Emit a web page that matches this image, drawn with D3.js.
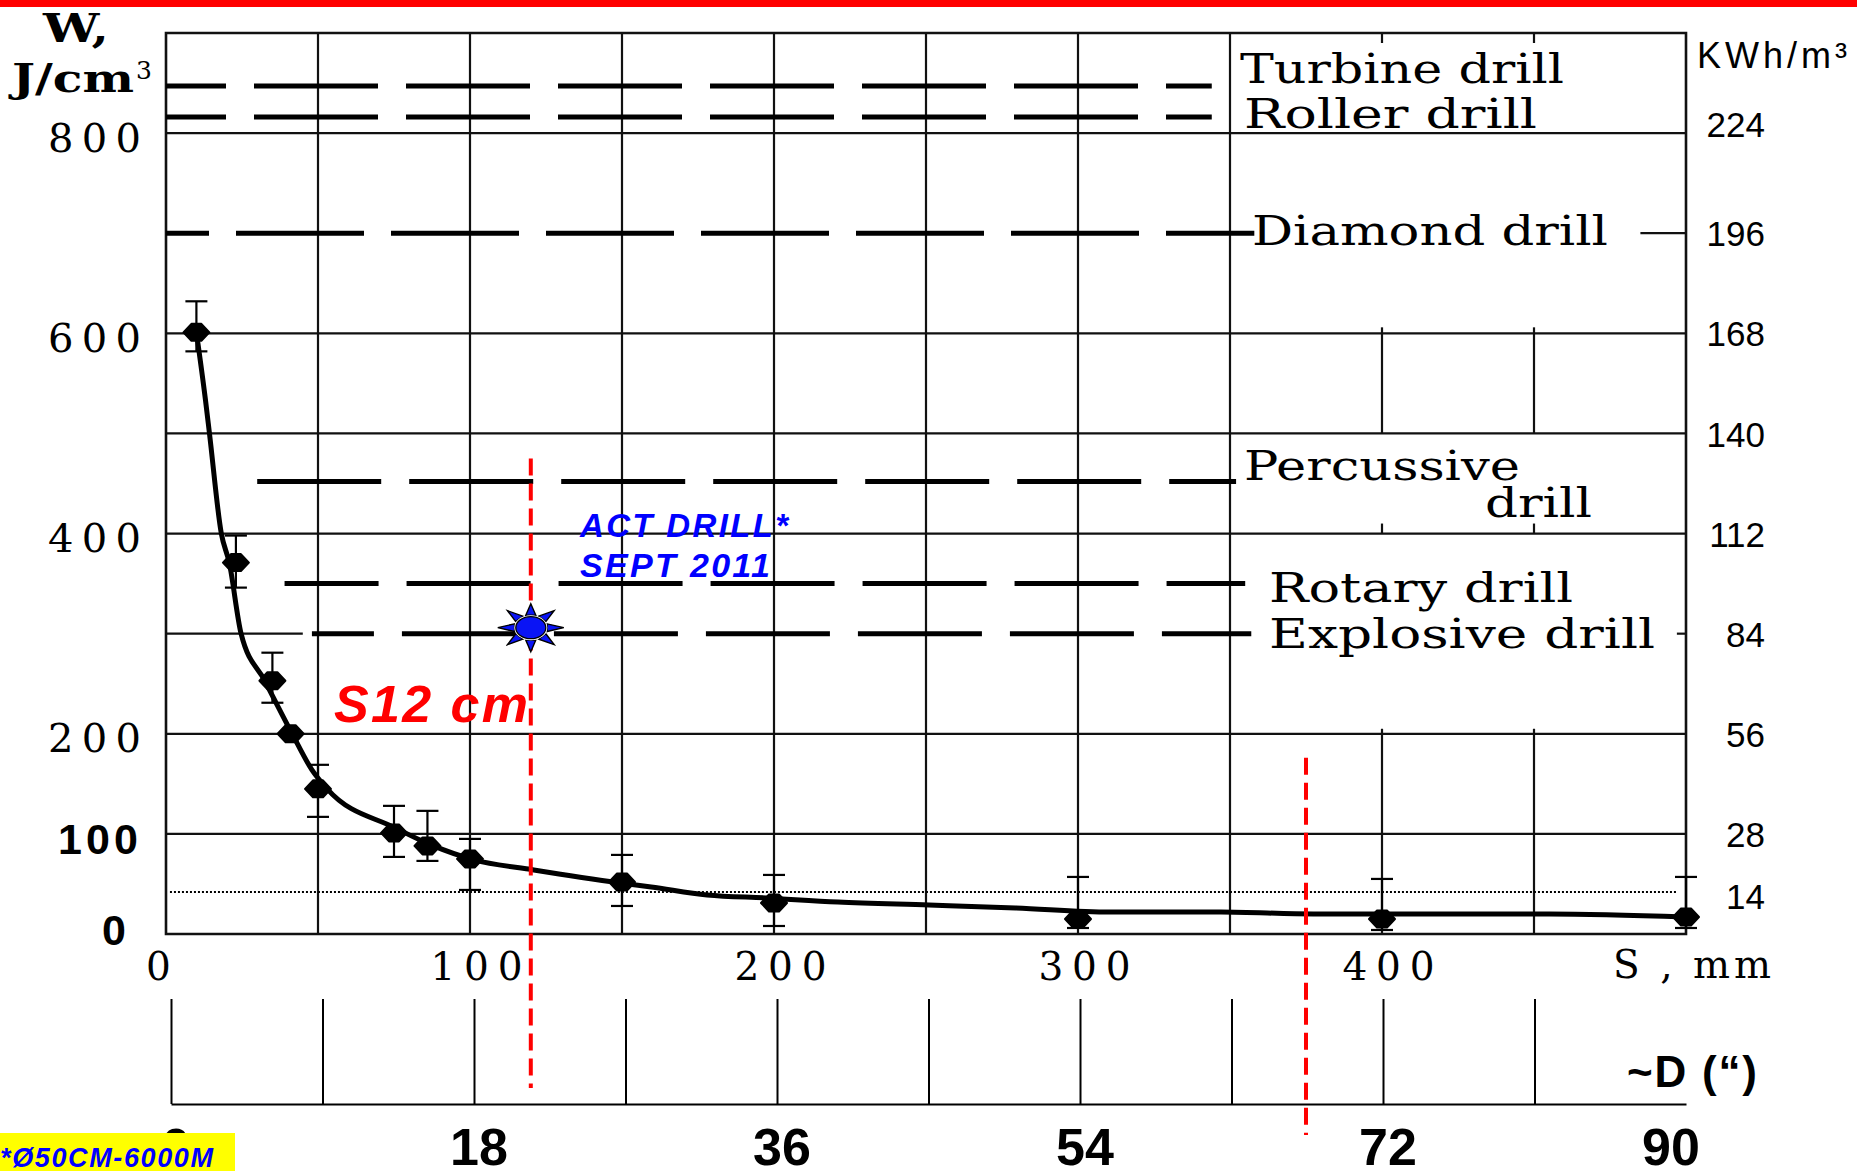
<!DOCTYPE html>
<html>
<head>
<meta charset="utf-8">
<script src="https://cdn.jsdelivr.net/npm/d3@7"></script>
<style>
  body { margin: 0; background: #fff; }
  svg { display: block; }
</style>
</head>
<body>
<svg id="chart" width="1857" height="1171"></svg>
<script>
// Specific energy W (J/cm³) against cutting spacing S (mm)
const pointS  = [10, 23, 35, 41, 50, 75, 86, 100, 150, 200, 300, 400, 500];
const pointW  = [601, 371, 253, 200, 145, 101, 88, 75, 52, 31, 15, 15, 17];
const errHigh = [632, 398, 281, null, 169, 128, 123, 95, 79, 59, 57, 55, 57];
const errLow  = [582, 346, 231, null, 117, 77, 73, 44, 28, 8, 6, 4, 6];

// Fitted trend curve
const curveS = [10, 13, 14.3, 18.2, 20.8, 24.7, 32.5, 41.5, 48, 53, 75.4, 87.2, 101.4, 121, 149.4, 159.6, 178, 197.5, 221, 251, 279.5, 310.7, 347, 377.5, 455, 500];
const curveW = [601, 533, 500, 400, 371, 300, 253, 200, 164, 145, 106, 89, 74, 64, 51, 47, 39, 36, 32, 29, 26, 22, 22, 20, 20, 17];

// Typical energy levels of drilling methods
const drillNames = ["Turbine drill", "Roller drill", "Diamond drill", "Percussive drill", "Rotary drill", "Explosive drill"];
const drillW     = [847, 816, 700, 452, 350, 300];
const drillFromS = [0, 0, 0, 30, 39, 48];
const drillToS   = [344, 344, 358, 352, 355, 357];

// Axis ticks
const leftTicks  = [0, 100, 200, 400, 600, 800];
const rightTicks = [224, 196, 168, 140, 112, 84, 56, 28, 14];   // kWh/m³
const xTicks     = [0, 100, 200, 300, 400];
const dTicks     = [0, 9, 18, 27, 36, 45, 54, 63, 72, 81];          // inches
const dLabels    = [0, 18, 36, 54, 72, 90];

// Grid
const gridW = [100, 200, 400, 500, 600, 800];
const gridS = [50, 100, 150, 200, 250, 300, 350];
const partialGridS = [400, 450];
const partialGridSpans = [[900, 890], [606, 500], [410, 400], [205, 0]];

// Annotations
const markerS = [120, 375];
const markerTopW = [475, 176];
const actDrillS = 120, actDrillW = 306;
const refLevelW = 42;
const kwhPerJ = 0.28;

const svg = d3.select("#chart");
const x = d3.scaleLinear().domain([0, 500]).range([166, 1686]);
const y = d3.scaleLinear().domain([0, 900]).range([934, 33]);
const yK = d3.scaleLinear().domain([0, 900 * kwhPerJ]).range([934, 33]);
const dScale = d3.scaleLinear().domain([0, 90]).range([171, 1686]);

const serif = "'DejaVu Serif', 'Liberation Serif', serif";
const sans = "'Liberation Sans', Arial, sans-serif";
const ink = "#111";

// top red band
svg.append("rect").attr("x", 0).attr("y", 0).attr("width", 1857).attr("height", 7).attr("fill", "#ff0000");

const grid = svg.append("g").attr("stroke", ink).attr("stroke-width", 2.2).attr("fill", "none");
// horizontal grid
grid.selectAll("line.h").data(gridW).join("line")
  .attr("x1", x(0)).attr("x2", x(500)).attr("y1", d => y(d)).attr("y2", d => y(d));
// short pieces of the 300 and 700 levels
grid.append("line").attr("x1", x(0)).attr("x2", x(45)).attr("y1", y(300)).attr("y2", y(300));
grid.append("line").attr("x1", x(497)).attr("x2", x(500)).attr("y1", y(300)).attr("y2", y(300));
grid.append("line").attr("x1", x(485)).attr("x2", x(500)).attr("y1", y(700)).attr("y2", y(700));
// vertical grid
grid.selectAll("line.v").data(gridS).join("line")
  .attr("x1", d => x(d)).attr("x2", d => x(d)).attr("y1", y(900)).attr("y2", y(0));
partialGridS.forEach(s => {
  grid.selectAll(null).data(partialGridSpans).join("line")
    .attr("x1", x(s)).attr("x2", x(s)).attr("y1", d => y(d[0])).attr("y2", d => y(d[1]));
});
// frame
svg.append("path")
  .attr("d", `M${x(0)},${y(900)}H${x(500)}V${y(0)}H${x(0)}Z`)
  .attr("fill", "none").attr("stroke", ink).attr("stroke-width", 2.6);

// dashed drill levels
const dashOffsets = [64, 64, 85, 0, 30, 62];
svg.append("g").selectAll("line").data(drillW).join("line")
  .attr("x1", (d, i) => x(drillFromS[i])).attr("x2", (d, i) => x(drillToS[i]))
  .attr("y1", d => y(d)).attr("y2", d => y(d))
  .attr("stroke", "#000").attr("stroke-width", 5)
  .attr("stroke-dasharray", (d, i) => i === 2 ? "128 27" : "124 28")
  .attr("stroke-dashoffset", (d, i) => dashOffsets[i]);

// dotted reference level
svg.append("line").attr("x1", x(1.3)).attr("x2", x(497))
  .attr("y1", y(refLevelW)).attr("y2", y(refLevelW))
  .attr("stroke", "#000").attr("stroke-width", 2).attr("stroke-dasharray", "2 2");

// trend curve
const line = d3.line().x(d => x(d[0])).y(d => y(d[1])).curve(d3.curveMonotoneX);
svg.append("path").datum(curveS.map((s, i) => [s, curveW[i]]))
  .attr("d", line).attr("fill", "none").attr("stroke", "#000").attr("stroke-width", 5)
  .attr("stroke-linejoin", "round");

// error bars
const pts = pointS.map((s, i) => ({ s, w: pointW[i], hi: errHigh[i], lo: errLow[i] }));
const eb = svg.append("g").attr("stroke", "#000").attr("stroke-width", 2.2);
pts.filter(p => p.hi !== null).forEach(p => {
  eb.append("line").attr("x1", x(p.s)).attr("x2", x(p.s)).attr("y1", y(p.hi)).attr("y2", y(p.lo));
  eb.append("line").attr("x1", x(p.s) - 11).attr("x2", x(p.s) + 11).attr("y1", y(p.hi)).attr("y2", y(p.hi));
  eb.append("line").attr("x1", x(p.s) - 11).attr("x2", x(p.s) + 11).attr("y1", y(p.lo)).attr("y2", y(p.lo));
});
// measured points (rounded diamond blobs)
const blob = "M-13,0L-5,-8.5L5,-8.5L13,0L5,8.5L-5,8.5Z";
svg.append("g").selectAll("path").data(pts).join("path")
  .attr("transform", d => `translate(${x(d.s)},${y(d.w)})`)
  .attr("d", blob).attr("fill", "#000").attr("stroke", "#000").attr("stroke-width", 2).attr("stroke-linejoin", "round");

// red dashed markers
svg.append("g").selectAll("line").data(markerS).join("line")
  .attr("x1", d => x(d)).attr("x2", d => x(d))
  .attr("y1", (d, i) => y(markerTopW[i])).attr("y2", (d, i) => i === 0 ? 1088 : 1135)
  .attr("stroke", "#ff0000").attr("stroke-width", 4).attr("stroke-dasharray", "17 8");

// ACT drill star
function starPath(rx, ry, tx, ty, n, half) {
  let p = "";
  for (let i = 0; i < n; i++) {
    const a = i * 2 * Math.PI / n, b1 = a - half, b2 = a + half;
    p += `M${rx * Math.cos(b1)},${ry * Math.sin(b1)}L${tx * Math.cos(a)},${ty * Math.sin(a)}L${rx * Math.cos(b2)},${ry * Math.sin(b2)}Z`;
  }
  return p;
}
const star = svg.append("g").attr("transform", `translate(${x(actDrillS)},${y(actDrillW)})`);
star.append("path").attr("d", starPath(17, 13, 33, 24, 8, 0.3))
  .attr("fill", "#0a14f5").attr("stroke", "#000").attr("stroke-width", 1.4).attr("stroke-linejoin", "miter");
star.append("ellipse").attr("rx", 16.5).attr("ry", 12.5).attr("fill", "#fff").attr("stroke", "none");
star.append("ellipse").attr("rx", 15).attr("ry", 11).attr("fill", "#0a14f5").attr("stroke", "#000").attr("stroke-width", 1.3);

// left axis
const la = svg.append("g").attr("transform", `translate(${x(0)},0)`)
  .call(d3.axisLeft(y).tickValues(leftTicks).tickSize(0).tickPadding(24));
la.select(".domain").remove();
la.selectAll(".tick text")
  .attr("fill", "#000")
  .attr("font-family", d => d <= 100 ? sans : serif)
  .attr("font-weight", d => d <= 100 ? "bold" : "normal")
  .attr("font-size", d => d <= 100 ? 43 : 40)
  .attr("x", d => d === 0 ? -40 : (d === 100 ? -28 : -25))
  .attr("dy", d => d === 0 ? "0.25em" : "0.45em")
  .attr("textLength", d => d === 0 ? null : (d === 100 ? 80 : 93))
  .attr("lengthAdjust", "spacing");

// right axis (kWh/m³)
const ra = svg.append("g").attr("transform", `translate(${x(500)},0)`)
  .call(d3.axisRight(yK).tickValues(rightTicks).tickSize(0));
ra.select(".domain").remove();
ra.selectAll(".tick text")
  .attr("fill", "#000").attr("font-family", sans).attr("font-size", 35)
  .attr("text-anchor", "end").attr("x", 79)
  .attr("dy", d => d === 224 ? "0.1em" : (d === 14 ? "0.7em" : "0.36em"));

// bottom S axis
const xa = svg.append("g").attr("transform", `translate(0,${y(0)})`)
  .call(d3.axisBottom(x).tickValues(xTicks).tickSize(0).tickPadding(18));
xa.select(".domain").remove();
xa.selectAll(".tick text")
  .attr("fill", "#000").attr("font-family", serif).attr("font-size", 39)
  .attr("x", d => d === 0 ? -8 : 6)
  .attr("dy", "0.71em")
  .attr("textLength", d => d === 0 ? null : 92).attr("lengthAdjust", "spacing");

// D axis (inches)
const da = svg.append("g").attr("transform", "translate(0,1104)")
  .call(d3.axisTop(dScale).tickValues(dTicks).tickSize(105).tickSizeOuter(0).tickFormat(""));
da.selectAll("line, path").attr("stroke", "#000").attr("stroke-width", 2);
svg.append("g").selectAll("text").data(dLabels).join("text")
  .attr("x", d => d === 90 ? dScale(d) - 15 : dScale(d) + 5).attr("y", 1165)
  .attr("text-anchor", "middle").attr("font-family", sans).attr("font-weight", "bold")
  .attr("font-size", 52).attr("fill", "#000").text(d => d);

// axis titles
svg.append("text").attr("x", 43).attr("y", 42).attr("font-family", serif).attr("font-weight", "bold")
  .attr("font-size", 40).attr("textLength", 66).attr("lengthAdjust", "spacingAndGlyphs").text("W,");
svg.append("text").attr("x", 12).attr("y", 92).attr("font-family", serif).attr("font-weight", "bold")
  .attr("font-size", 40).attr("textLength", 122).attr("lengthAdjust", "spacingAndGlyphs").text("J/cm");
svg.append("text").attr("x", 136).attr("y", 79).attr("font-family", serif)
  .attr("font-size", 25).text("3");

svg.append("text").attr("x", 1697).attr("y", 68).attr("font-family", sans).attr("font-size", 36)
  .attr("textLength", 150).attr("lengthAdjust", "spacing").text("KWh/m³");
svg.append("text").attr("x", 1613).attr("y", 978).attr("font-family", serif).attr("font-size", 39)
  .attr("textLength", 158).attr("lengthAdjust", "spacing").text("S , mm");
svg.append("text").attr("x", 1627).attr("y", 1087).attr("font-family", sans).attr("font-weight", "bold")
  .attr("font-size", 44).attr("textLength", 130).attr("lengthAdjust", "spacing").text("~D (“)");

// drill labels
const drillLabelSpec = [
  { t: "Turbine drill", x: 1240, y: 83, w: 324 },
  { t: "Roller drill", x: 1244, y: 128, w: 293 },
  { t: "Diamond drill", x: 1252, y: 245, w: 356 },
  { t: "Percussive", x: 1244, y: 480, w: 276 },
  { t: "drill", x: 1485, y: 517, w: 107 },
  { t: "Rotary drill", x: 1269, y: 602, w: 304 },
  { t: "Explosive drill", x: 1269, y: 648, w: 386 }
];
svg.append("g").selectAll("text").data(drillLabelSpec).join("text")
  .attr("x", d => d.x).attr("y", d => d.y)
  .attr("font-family", serif).attr("font-size", 41).attr("fill", "#000")
  .attr("textLength", d => d.w).attr("lengthAdjust", "spacingAndGlyphs").text(d => d.t);

// annotations
svg.append("text").attr("x", 334).attr("y", 722).attr("font-family", sans).attr("font-weight", "bold")
  .attr("font-style", "italic").attr("font-size", 52).attr("fill", "#ff0000")
  .attr("textLength", 194).attr("lengthAdjust", "spacing").text("S12 cm");
svg.append("text").attr("x", 580).attr("y", 537).attr("font-family", sans).attr("font-weight", "bold")
  .attr("font-style", "italic").attr("font-size", 33).attr("fill", "#0000ff")
  .attr("textLength", 208).attr("lengthAdjust", "spacing").text("ACT DRILL*");
svg.append("text").attr("x", 580).attr("y", 577).attr("font-family", sans).attr("font-weight", "bold")
  .attr("font-style", "italic").attr("font-size", 34).attr("fill", "#0000ff")
  .attr("textLength", 190).attr("lengthAdjust", "spacing").text("SEPT 2011");

// footnote box
svg.append("rect").attr("x", 0).attr("y", 1133).attr("width", 235).attr("height", 38).attr("fill", "#ffff00");
svg.append("text").attr("x", 0).attr("y", 1167).attr("font-family", sans).attr("font-weight", "bold")
  .attr("font-style", "italic").attr("font-size", 27).attr("fill", "#0000ff")
  .attr("textLength", 213).attr("lengthAdjust", "spacing").text("*Ø50CM-6000M");
</script>
</body>
</html>
